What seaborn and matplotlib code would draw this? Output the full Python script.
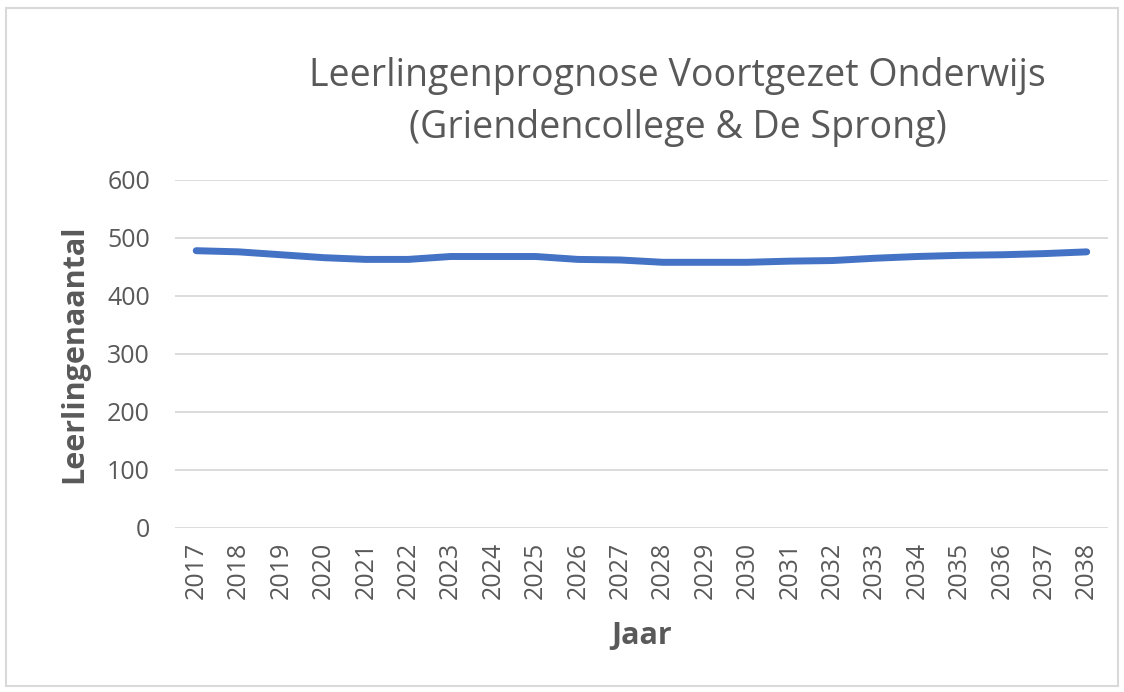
import numpy as np
import pandas as pd
import matplotlib
matplotlib.use('Agg')
import matplotlib.pyplot as plt
import seaborn as sns
from matplotlib.patches import Rectangle

# Prognose data
years = [str(y) for y in range(2017, 2039)]
leerlingen = [478, 476, 471, 466, 463, 463, 468, 468, 468, 463, 462,
              458, 458, 458, 460, 461, 465, 468, 470, 471, 473, 476]

df = pd.DataFrame({'Jaar': years, 'Leerlingenaantal': leerlingen})

sns.set_style('white')
plt.rcParams['font.family'] = ['Open Sans', 'DejaVu Sans']

grey = '#595959'
fig = plt.figure(figsize=(11.24, 6.92), dpi=100)
ax = fig.add_axes([0.1557, 0.237, 0.83, 0.503])

sns.lineplot(data=df, x='Jaar', y='Leerlingenaantal', ax=ax, color='#4472C4',
             linewidth=5, solid_capstyle='round', solid_joinstyle='round', sort=False)

ax.set_ylim(0, 600)
ax.set_xlim(-0.5, len(years) - 0.5)
ax.set_yticks(range(0, 601, 100))
ax.yaxis.grid(True, color='#D9D9D9', linewidth=1.3)
ax.set_axisbelow(True)
for s in ax.spines.values():
    s.set_visible(False)
ax.tick_params(axis='both', length=0, colors=grey, labelsize=18)
ax.tick_params(axis='y', pad=18)
ax.tick_params(axis='x', pad=10)
plt.setp(ax.get_xticklabels(), rotation=90)

ax.set_xlabel('Jaar', fontsize=22, fontweight='bold', color=grey, labelpad=16)
ax.set_ylabel('Leerlingenaantal', fontsize=22, fontweight='bold', color=grey, labelpad=13)

fig.text(0.603, 0.852, 'Leerlingenprognose Voortgezet Onderwijs\n(Griendencollege & De Sprong)',
         ha='center', va='center', fontsize=27, color=grey, linespacing=1.48)

fig.patches.append(Rectangle((0.005, 0.008), 0.99, 0.98, transform=fig.transFigure,
                             fill=False, edgecolor='#D9D9D9', linewidth=1.5))

fig.savefig('out.png', dpi=100)
